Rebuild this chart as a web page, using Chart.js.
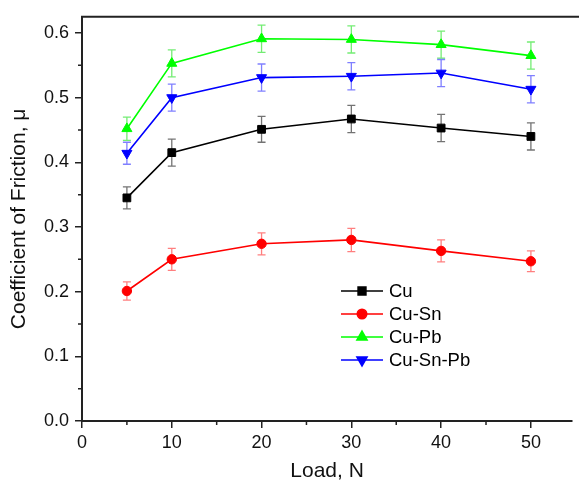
<!DOCTYPE html>
<html>
<head>
<meta charset="utf-8">
<script src="https://cdn.jsdelivr.net/npm/chart.js@4/dist/chart.umd.min.js"></script>
<style>
  html, body { margin: 0; padding: 0; background: #fff; overflow: hidden; }
  canvas { display: block; }
</style>
</head>
<body>
<canvas id="friction" width="579" height="484"></canvas>
<script>
// load (N) and coefficient of friction
var loads = [5, 10, 20, 30, 40, 50];

var cu        = [0.345, 0.415, 0.451, 0.467, 0.453, 0.440];
var cuErr     = [0.017, 0.021, 0.020, 0.021, 0.021, 0.021];
var cuSn      = [0.201, 0.250, 0.274, 0.280, 0.263, 0.247];
var cuSnErr   = [0.014, 0.017, 0.017, 0.018, 0.017, 0.016];
var cuPb      = [0.452, 0.553, 0.591, 0.590, 0.582, 0.565];
var cuPbErr   = [0.018, 0.021, 0.021, 0.021, 0.021, 0.021];
var cuSnPb    = [0.414, 0.500, 0.531, 0.533, 0.538, 0.513];
var cuSnPbErr = [0.017, 0.021, 0.021, 0.021, 0.021, 0.021];

var xTicks = [0, 10, 20, 30, 40, 50];
var yTicks = [0.0, 0.1, 0.2, 0.3, 0.4, 0.5, 0.6];
var xMinor = [5, 15, 25, 35, 45];
var yMinor = [0.05, 0.15, 0.25, 0.35, 0.45, 0.55];

var FONT = "'Liberation Sans', Arial, sans-serif";

function series(label, values, errs, color, errColor, style, radius, rotation) {
  return {
    label: label,
    data: loads.map(function (x, i) { return {x: x, y: values[i]}; }),
    errors: errs,
    errColor: errColor,
    borderColor: color,
    backgroundColor: color,
    borderWidth: 1.6,
    pointStyle: style,
    pointRadius: radius,
    pointRotation: rotation || 0,
    pointBorderWidth: 1,
    pointBorderColor: color,
    pointBackgroundColor: color,
    tension: 0
  };
}

var datasets = [
  series('Cu', cu, cuErr, '#000000', 'rgba(0,0,0,0.55)', 'rect', 5.5),
  series('Cu-Sn', cuSn, cuSnErr, '#ff0000', 'rgba(255,0,0,0.5)', 'circle', 4.7),
  series('Cu-Pb', cuPb, cuPbErr, '#00ff00', 'rgba(0,220,0,0.55)', 'triangle', 5.8),
  series('Cu-Sn-Pb', cuSnPb, cuSnPbErr, '#0000ff', 'rgba(0,0,255,0.5)', 'triangle', 5.8, 180)
];

// error bars, drawn under the markers
var errorBars = {
  id: 'errorBars',
  beforeDatasetsDraw: function (chart) {
    var ctx = chart.ctx, xs = chart.scales.x, ys = chart.scales.y;
    ctx.save();
    chart.data.datasets.forEach(function (ds) {
      ctx.strokeStyle = ds.errColor;
      ctx.lineWidth = 1.3;
      ds.data.forEach(function (p, i) {
        var px = xs.getPixelForValue(p.x);
        var top = ys.getPixelForValue(p.y + ds.errors[i]);
        var bot = ys.getPixelForValue(p.y - ds.errors[i]);
        ctx.beginPath();
        ctx.moveTo(px, top); ctx.lineTo(px, bot);
        ctx.moveTo(px - 4, top); ctx.lineTo(px + 4, top);
        ctx.moveTo(px - 4, bot); ctx.lineTo(px + 4, bot);
        ctx.stroke();
      });
    });
    ctx.restore();
  }
};

// top frame line and short minor ticks
var frame = {
  id: 'frame',
  afterDraw: function (chart) {
    var ctx = chart.ctx, a = chart.chartArea, xs = chart.scales.x, ys = chart.scales.y;
    ctx.save();
    ctx.strokeStyle = '#222';
    ctx.lineWidth = 2;
    ctx.beginPath();
    ctx.moveTo(a.left - 1, a.top);
    ctx.lineTo(chart.width, a.top);
    ctx.stroke();
    ctx.lineWidth = 1.5;
    ctx.beginPath();
    xMinor.forEach(function (v) {
      var px = xs.getPixelForValue(v);
      ctx.moveTo(px, a.bottom); ctx.lineTo(px, a.bottom + 4);
    });
    yMinor.forEach(function (v) {
      var py = ys.getPixelForValue(v);
      ctx.moveTo(a.left, py); ctx.lineTo(a.left - 4, py);
    });
    ctx.stroke();
    ctx.restore();
  }
};

// legend inside the plot: line - marker - line, then the name
var insideLegend = {
  id: 'insideLegend',
  afterDraw: function (chart) {
    var ctx = chart.ctx, a = chart.chartArea;
    var x0 = a.left + 259, x1 = a.left + 301, mx = a.left + 280, tx = a.left + 307;
    var y0 = 291, dy = 23;
    ctx.save();
    ctx.font = '18.5px ' + FONT;
    ctx.textBaseline = 'middle';
    chart.data.datasets.forEach(function (ds, i) {
      var y = y0 + i * dy;
      ctx.strokeStyle = ds.borderColor;
      ctx.lineWidth = 1.6;
      ctx.beginPath();
      ctx.moveTo(x0, y); ctx.lineTo(x1, y);
      ctx.stroke();
      ctx.fillStyle = ds.backgroundColor;
      Chart.helpers.drawPoint(ctx, {
        pointStyle: ds.pointStyle, radius: ds.pointRadius, rotation: ds.pointRotation,
        borderWidth: 1
      }, mx, y);
      ctx.fillStyle = '#000';
      ctx.fillText(ds.label, tx, y + 1);
    });
    ctx.restore();
  }
};

var ctx = document.getElementById('friction').getContext('2d');
var frictionChart = new Chart(ctx, {
  type: 'line',
  data: { datasets: datasets },
  plugins: [errorBars, frame, insideLegend],
  options: {
    responsive: false,
    animation: false,
    devicePixelRatio: 1,
    layout: { padding: { top: 13, right: 0, left: 0, bottom: 0 } },
    scales: {
      x: {
        type: 'linear',
        min: 0,
        max: 54.6,
        afterBuildTicks: function (scale) {
          scale.ticks = xTicks.map(function (v) { return {value: v}; });
        },
        afterFit: function (scale) {
          scale.height = 63;
          scale.paddingRight = 0;
          scale.paddingLeft = 0;
        },
        border: { color: '#222', width: 2 },
        grid: { drawOnChartArea: false, drawTicks: true, tickLength: 7, color: '#222', lineWidth: 1.5 },
        ticks: {
          color: '#111',
          padding: 4,
          maxRotation: 0,
          font: { family: FONT, size: 18 }
        },
        title: {
          display: true,
          text: 'Load, N',
          color: '#111',
          padding: { top: 4, bottom: 0 },
          font: { family: FONT, size: 21 }
        }
      },
      y: {
        min: 0,
        max: 0.625,
        afterBuildTicks: function (scale) {
          scale.ticks = yTicks.map(function (v) { return {value: v}; });
        },
        afterFit: function (scale) { scale.width = 82; },
        border: { color: '#222', width: 2 },
        grid: { drawOnChartArea: false, drawTicks: true, tickLength: 7, color: '#222', lineWidth: 1.5 },
        ticks: {
          color: '#111',
          padding: 6,
          font: { family: FONT, size: 18 },
          callback: function (v) { return v.toFixed(1); }
        },
        title: {
          display: true,
          text: 'Coefficient of Friction, \u03bc',
          color: '#111',
          padding: { top: 7, bottom: 4 },
          font: { family: FONT, size: 21 }
        }
      }
    },
    plugins: {
      legend: { display: false },
      tooltip: { enabled: false }
    }
  }
});
</script>
</body>
</html>
